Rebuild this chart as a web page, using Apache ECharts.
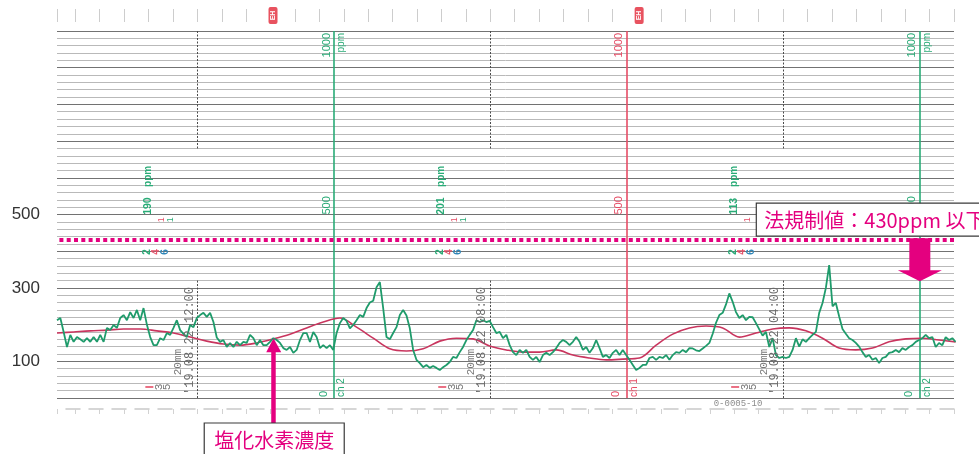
<!DOCTYPE html>
<html>
<head>
<meta charset="utf-8">
<script src="https://cdn.jsdelivr.net/npm/echarts@6.0.0/dist/echarts.min.js"></script>
<style>
  html, body { margin: 0; padding: 0; background: #ffffff; }
  #c { width: 979px; height: 454px; }
</style>
</head>
<body>
<div id="c"></div>
<script>
// Recorder chart of HCl concentration (ppm). Time axis is minutes of day and runs
// right-to-left on the paper (13:55 at the left edge, ~01:40 at the right edge).

// ch 2 raw trace, one sample every 60/22 min starting at 13:55
const hclStartMin = 835;
const hclStepMin = 60 / 22;
const hclRaw = [
  212, 218, 180, 139, 172, 153, 166, 160, 153, 163,
  153, 166, 153, 172, 153, 191, 185, 199, 191, 218,
  226, 212, 234, 218, 240, 212, 245, 200, 166, 144,
  144, 163, 158, 177, 172, 191, 212, 185, 175, 166,
  199, 193, 218, 226, 232, 221, 232, 207, 165, 153,
  158, 139, 150, 139, 153, 144, 153, 150, 172, 163,
  144, 158, 144, 144, 153, 163, 158, 150, 136, 131,
  139, 123, 131, 158, 177, 177, 153, 180, 166, 136,
  144, 136, 144, 131, 177, 204, 218, 210, 190, 199,
  212, 226, 221, 245, 260, 265, 302, 316, 245, 166,
  160, 177, 193, 226, 240, 225, 190, 131, 104, 95,
  84, 90, 82, 87, 82, 76, 84, 90, 98, 112,
  109, 125, 139, 158, 172, 185, 212, 207, 212, 207,
  210, 193, 177, 180, 163, 172, 144, 125, 117, 131,
  123, 131, 112, 104, 112, 98, 117, 123, 117, 125,
  136, 150, 158, 153, 144, 153, 166, 153, 131, 139,
  123, 136, 158, 136, 112, 117, 109, 123, 131, 117,
  131, 117, 104, 90, 76, 82, 90, 90, 109, 112,
  104, 112, 109, 117, 104, 117, 125, 123, 131, 125,
  136, 135, 130, 128, 135, 142, 150, 175, 205, 226,
  232, 255, 285, 262, 234, 218, 226, 212, 221, 220,
  204, 187, 170, 180, 139, 163, 117, 109, 112, 109,
  112, 131, 163, 140, 160, 153, 163, 172, 180, 232,
  259, 300, 362, 250, 259, 222, 188, 175, 163, 158,
  150, 140, 125, 112, 117, 104, 109, 95, 109, 112,
  123, 125, 131, 125, 136, 131, 139, 144, 153, 158,
  163, 172, 163, 166, 139, 150, 144, 166, 158, 163, 153
];

// moving-average trace, one sample every 300/22 min from the same start
const avgStepMin = 300 / 22;
const hclAvg = [
  177, 180, 183, 185, 188, 188, 183, 177, 166, 155,
  147, 144, 150, 161, 174, 191, 207, 218, 193, 163,
  134, 128, 134, 155, 163, 161, 142, 131, 125, 125,
  131, 117, 109, 104, 106, 109, 144, 174, 191, 196,
  191, 166, 177, 188, 191, 183, 163, 136, 131, 136,
  153, 161, 163, 158, 153
];

const limitPpm = 430;                 // regulatory limit
const yLabelValues = [100, 300, 500];
const hourLines = [720, 480, 240];    // 12:00, 08:00, 04:00
const hourLabels = ["'19.08.22 12:00", "'19.08.22 08:00", "'19.08.22 04:00"];
const penMarks = [608, 368, 128];     // printed pen scales
const penKinds = ['g', 'r', 'g'];
const printTimes = [760, 520, 280];   // periodic digital printout
const printReadings = ['190', '201', '113'];
const tagTimes = [658, 358];

const GREEN = '#1f9b6b';
const PEN_GREEN = '#2aab77';
const RED = '#c9355e';
const PEN_RED = '#e64d66';
const MAGENTA = '#e4007f';

const rawData = hclRaw.map((v, i) => [hclStartMin - i * hclStepMin, v]);
const avgData = hclAvg.map((v, i) => [hclStartMin - i * avgStepMin, v]);

const seg = (t, v0, v1, lineStyle) => [{ coord: [t, v0], lineStyle }, { coord: [t, v1] }];
const hourStyle = { color: '#4a4a4a', width: 1, type: [2, 1.5] };
const paperLines = [];
hourLines.forEach(t => {
  paperLines.push(seg(t, 1000, 680, hourStyle));
  paperLines.push(seg(t, 320, 0, hourStyle));
});
penMarks.forEach((t, i) => {
  paperLines.push(seg(t, 0, 1000, { color: penKinds[i] === 'g' ? PEN_GREEN : PEN_RED, width: 1.6, type: 'solid' }));
});

const hidden = { show: false };
const option = {
  animation: false,
  backgroundColor: '#ffffff',
  grid: { left: 57, right: 25, top: 31, bottom: 56, containLabel: false, outerBoundsMode: 'none' },
  xAxis: [
    { type: 'value', min: 100, max: 835, inverse: true,
      axisLine: hidden, axisTick: hidden, axisLabel: hidden, splitLine: hidden },
    { type: 'value', min: 100, max: 835, inverse: true, position: 'top', offset: 9, interval: 20,
      axisLine: { show: true, onZero: false, lineStyle: { color: 'rgba(0,0,0,0)' } }, axisLabel: hidden, splitLine: hidden,
      axisTick: { show: true, length: 13, lineStyle: { color: '#cdcdcd', width: 1 } } },
    { type: 'value', min: 100, max: 835, inverse: true, position: 'bottom', offset: 11, interval: 20,
      axisLine: { show: true, onZero: false, lineStyle: { color: '#c9c9c9', width: 1.5, type: [14, 9] } },
      axisLabel: hidden, splitLine: hidden,
      axisTick: { show: true, length: 5, lineStyle: { color: '#d2d2d2', width: 1 } } }
  ],
  yAxis: [
    { type: 'value', position: 'left', min: 0, max: 1000, interval: 20,
      axisLine: hidden, axisTick: hidden, axisLabel: hidden,
      splitLine: { show: true, lineStyle: { color: '#b9b9b9', width: 1 } } },
    { type: 'value', position: 'left', min: 0, max: 1000, interval: 100,
      axisLine: hidden, axisTick: hidden,
      axisLabel: { show: true, margin: 17, color: '#333', fontSize: 17, fontFamily: '"Liberation Sans", Arial, sans-serif',
        formatter: v => yLabelValues.includes(v) ? String(v) : '' },
      splitLine: { show: true, lineStyle: { color: '#727272', width: 1.2 } } }
  ],
  series: [
    { type: 'line', name: 'avg', data: avgData, smooth: 0.35, showSymbol: false, z: 3,
      lineStyle: { color: RED, width: 1.6 },
      markLine: { silent: true, symbol: ['none', 'none'], label: { show: false }, data: paperLines, z: 2 } },
    { type: 'line', name: 'HCl', data: rawData, showSymbol: false, z: 4,
      lineStyle: { color: GREEN, width: 1.8 },
      markLine: { silent: true, symbol: ['none', 'none'], label: { show: false },
        lineStyle: { color: MAGENTA, width: 4, type: [4, 3.3] },
        data: [{ yAxis: limitPpm }] } }
  ]
};

const chart = echarts.init(document.getElementById('c'));
chart.setOption(option);

const P = (t, v) => chart.convertToPixel({ xAxisIndex: 0, yAxisIndex: 0 }, [t, v]);
const SANS = '"Liberation Sans", Arial, sans-serif';
const MONO = '"Liberation Mono", "DejaVu Sans Mono", monospace';
const JP = '"Noto Sans CJK JP", sans-serif';
const g = [];

// rotated (bottom-to-top) printout text
function vtext(t, v, text, fill, o) {
  const p = P(t, v);
  g.push({
    type: 'text', x: p[0] + (o.dx || 0), y: p[1] + (o.dy || 0), rotation: Math.PI / 2, z: 20, silent: true,
    style: { text, fill, font: (o.weight || 'normal') + ' ' + (o.size || 10) + 'px ' + (o.family || SANS),
      align: o.align || 'left', verticalAlign: o.va || 'middle' }
  });
}

// pen scale marks
penMarks.forEach((t, i) => {
  const c = penKinds[i] === 'g' ? PEN_GREEN : PEN_RED;
  vtext(t, 1000, '1000', c, { align: 'right', va: 'bottom', dx: -2, dy: 2, size: 11 });
  if (penKinds[i] === 'g') vtext(t, 1000, 'ppm', c, { align: 'right', va: 'top', dx: 2, dy: 2, size: 10 });
  vtext(t, 500, '500', c, { align: 'left', va: 'bottom', dx: -2, size: 11 });
  vtext(t, 0, '0', c, { align: 'left', va: 'bottom', dx: -5, dy: -1, size: 11 });
  vtext(t, 0, penKinds[i] === 'g' ? 'ch 2' : 'ch 1', c, { align: 'left', va: 'top', dx: 2, dy: -1, size: 10 });
});

// hour lines: date stamp, chart speed and pen numbers
hourLines.forEach((t, i) => {
  vtext(t, 0, hourLabels[i], '#6a6a6a', { align: 'left', va: 'bottom', dx: -2, dy: -3, size: 12, family: MONO });
  vtext(t, 62, '20mm', '#7a7a7a', { align: 'left', va: 'bottom', dx: -14, size: 11, family: MONO });
  vtext(t, 30, '3', '#777', { align: 'center', va: 'middle', dx: -38, size: 11, family: MONO });
  vtext(t, 30, '5', '#777', { align: 'center', va: 'middle', dx: -30, size: 11, family: MONO });
  const p = P(t, 30);
  g.push({ type: 'rect', silent: true, z: 20, shape: { x: p[0] - 52, y: p[1] - 0.8, width: 8, height: 1.6 }, style: { fill: PEN_RED } });
});

// periodic printout of the current reading
printTimes.forEach((t, i) => {
  vtext(t, 499, printReadings[i], PEN_GREEN, { align: 'left', va: 'middle', size: 10.5, weight: 'bold' });
  vtext(t, 575, 'ppm', PEN_GREEN, { align: 'left', va: 'middle', size: 10, weight: 'bold' });
  vtext(t, 486, '1', PEN_RED, { align: 'center', va: 'middle', dx: 13, size: 9 });
  if (i < 2) vtext(t, 486, '1', PEN_GREEN, { align: 'center', va: 'middle', dx: 22, size: 9 });
  vtext(t, 398, '2', PEN_GREEN, { align: 'center', va: 'middle', dx: -1, size: 10, weight: 'bold' });
  vtext(t, 398, '4', PEN_RED, { align: 'center', va: 'middle', dx: 8, size: 10, weight: 'bold' });
  vtext(t, 398, '6', '#2f86b8', { align: 'center', va: 'middle', dx: 17, size: 10, weight: 'bold' });
});

// event tags on the top margin
tagTimes.forEach(t => {
  const p = P(t, 1000);
  g.push({ type: 'rect', silent: true, z: 20, shape: { x: p[0] - 4.5, y: p[1] - 24, width: 9, height: 17, r: 2 }, style: { fill: '#e8525f' } });
  g.push({ type: 'text', silent: true, z: 21, x: p[0], y: p[1] - 15.5, rotation: Math.PI / 2,
    style: { text: 'EH', fill: '#fff', font: 'bold 7px ' + SANS, align: 'center', verticalAlign: 'middle' } });
});

// paper code on the bottom margin
{
  const p = P(277, 0);
  g.push({ type: 'text', silent: true, z: 20, x: p[0], y: p[1] + 6,
    style: { text: '0-0005-10', fill: '#8c8c8c', font: '9px ' + MONO, align: 'center', verticalAlign: 'middle' } });
}

// limit callout with arrow
{
  const lp = P(262, limitPpm);
  g.push({ type: 'rect', silent: true, z: 30, shape: { x: lp[0], y: lp[1] - 37, width: 240, height: 33 },
    style: { fill: '#ffffff', stroke: '#3a3a3a', lineWidth: 1.2 } });
  g.push({ type: 'text', silent: true, z: 31, x: lp[0] + 8, y: lp[1] - 20, style: {
    text: '法規制値：' + limitPpm + 'ppm 以下', fill: MAGENTA, font: '20px ' + JP, verticalAlign: 'middle' } });
  const ap = P(128, limitPpm);
  const cx = ap[0], top = ap[1] - 2;
  g.push({ type: 'polygon', silent: true, z: 30, shape: { points: [
    [cx - 10.5, top], [cx + 10.5, top], [cx + 10.5, top + 32], [cx + 22, top + 32],
    [cx, top + 43], [cx - 22, top + 32], [cx - 10.5, top + 32]] }, style: { fill: MAGENTA } });
}

// series callout pointing at the trace
{
  const tip = P(657, 163);
  const base = P(657, 0);
  const cx = tip[0];
  const boxTop = base[1] + 25;
  g.push({ type: 'rect', silent: true, z: 30, shape: { x: cx - 3, y: tip[1] + 12, width: 4.5, height: boxTop - tip[1] - 12 }, style: { fill: MAGENTA } });
  g.push({ type: 'polygon', silent: true, z: 30, shape: { points: [[cx - 0.7, tip[1]], [cx + 7, tip[1] + 14], [cx - 8, tip[1] + 14]] }, style: { fill: MAGENTA } });
  g.push({ type: 'rect', silent: true, z: 30, shape: { x: cx - 70, y: boxTop, width: 140, height: 40 },
    style: { fill: '#ffffff', stroke: '#3a3a3a', lineWidth: 1.2 } });
  g.push({ type: 'text', silent: true, z: 31, x: cx, y: boxTop + 17, style: {
    text: '塩化水素濃度', fill: MAGENTA, font: '20px ' + JP, align: 'center', verticalAlign: 'middle' } });
}

chart.setOption({ graphic: { elements: g } });
</script>
</body>
</html>
